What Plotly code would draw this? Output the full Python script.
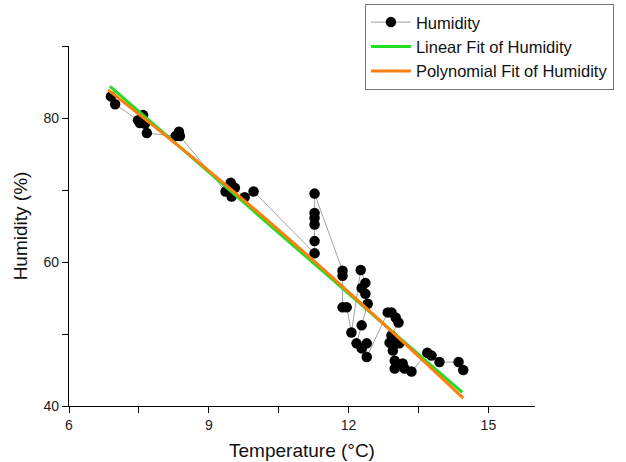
import plotly.graph_objects as go

# Measured data (temperature °C, humidity %), in recorded order
temperature = [6.90, 6.99, 7.48, 7.52, 7.59, 7.63, 7.67, 8.29, 8.36, 8.38,
               9.36, 9.47, 9.49, 9.56, 9.77, 9.96,
               11.27, 11.27, 11.27, 11.27, 11.27, 11.27,
               11.87, 11.87, 11.87, 11.96, 12.06,
               12.26, 12.36, 12.28, 12.36, 12.41, 12.28, 12.17, 12.28, 12.39, 12.39,
               12.84, 12.92, 13.01, 13.07, 12.92, 12.88, 12.99, 13.09, 12.95, 12.99, 12.99,
               13.16, 13.20, 13.35, 13.69, 13.78, 13.95, 14.36, 14.46]
humidity = [83.0, 81.9, 79.7, 79.3, 80.4, 79.2, 77.9, 77.5, 78.1, 77.5,
            69.8, 71.0, 69.1, 70.3, 69.0, 69.8,
            61.2, 62.9, 65.2, 66.1, 66.8, 69.5,
            58.8, 58.1, 53.7, 53.7, 50.2,
            58.9, 57.1, 56.4, 55.6, 54.2, 51.2, 48.7, 48.0, 48.7, 46.8,
            53.0, 53.0, 52.3, 51.6, 49.8, 48.8, 48.8, 48.7, 47.7, 46.3, 45.2,
            45.9, 45.2, 44.8, 47.4, 47.0, 46.1, 46.1, 45.0]

# Fit curves
lin_t = [6.88, 14.44]
lin_h = [84.4, 41.9]
poly_t = [6.84, 8.75, 10.65, 12.55, 14.46]
poly_h = [83.9, 74.0, 63.6, 52.6, 41.1]

x_ticks = [6, 9, 12, 15]
y_ticks = [40, 60, 80]

fig = go.Figure()
fig.add_trace(go.Scatter(
    x=temperature, y=humidity, mode="lines+markers", name="Humidity",
    line=dict(color="#8a8a8a", width=0.8),
    marker=dict(color="black", size=10.5)))
fig.add_trace(go.Scatter(
    x=lin_t, y=lin_h, mode="lines", name="Linear Fit of Humidity",
    line=dict(color="#22dd22", width=3)))
fig.add_trace(go.Scatter(
    x=poly_t, y=poly_h, mode="lines", name="Polynomial Fit of Humidity",
    line=dict(color="#ff7f0e", width=3, shape="spline")))

axis_font = dict(family="Liberation Sans, Arial, sans-serif", size=14, color="#222")
fig.update_layout(
    width=626, height=462,
    margin=dict(l=69, r=91, t=46, b=56, autoexpand=False),
    paper_bgcolor="white", plot_bgcolor="white",
    font=dict(family="Liberation Sans, Arial, sans-serif", size=14, color="#111"),
    legend=dict(x=0.635, y=1.117, xanchor="left", yanchor="top",
                bgcolor="white", bordercolor="#777", borderwidth=1,
                font=dict(size=16.5, color="#111"), itemwidth=40,
                tracegroupgap=0),
    xaxis=dict(range=[6, 16], tickvals=x_ticks, showline=True, linecolor="black",
               linewidth=1.2, ticks="outside", ticklen=6, tickcolor="black",
               showgrid=False, zeroline=False, tickfont=axis_font,
               minor=dict(tick0=6, dtick=1.5, ticks="outside", ticklen=6,
                          tickcolor="black", showgrid=False),
               title=dict(text="Temperature (°C)", font=dict(size=19, color="#111"),
                          standoff=11)),
    yaxis=dict(range=[40, 90], tickvals=y_ticks, showline=True, linecolor="black",
               linewidth=1.2, ticks="outside", ticklen=6, tickcolor="black",
               showgrid=False, zeroline=False, tickfont=axis_font,
               minor=dict(tick0=40, dtick=10, ticks="outside", ticklen=6,
                          tickcolor="black", showgrid=False),
               title=dict(text="Humidity (%)", font=dict(size=19, color="#111"),
                          standoff=10)),
)

fig.write_html("out.html")
